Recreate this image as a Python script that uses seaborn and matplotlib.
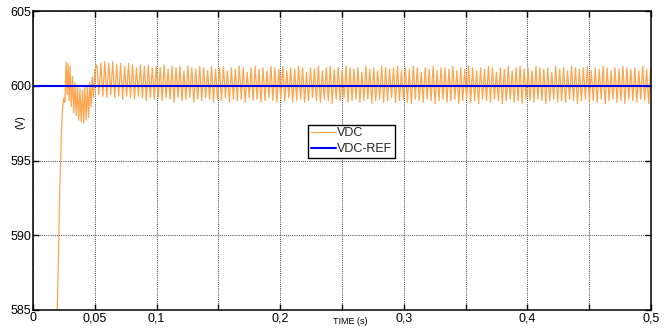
import numpy as np
import pandas as pd
import matplotlib
matplotlib.use("Agg")
import matplotlib.pyplot as plt
import seaborn as sns

# ---------------- data ----------------
# start-up transient: (time, value) of successive extrema
trans_t = [0.0190, 0.0205, 0.0215, 0.0228, 0.0240, 0.0250, 0.0258, 0.0268, 0.0276,
           0.0284, 0.0292, 0.0300, 0.0310, 0.0320, 0.0330, 0.0340, 0.0350, 0.0360,
           0.0370, 0.0380, 0.0390, 0.0400, 0.0410, 0.0420, 0.0430, 0.0440, 0.0450,
           0.0460, 0.0470, 0.0480, 0.0490, 0.0500]
trans_v = [583.0, 588.0, 592.5, 596.5, 598.6, 599.2, 598.9, 601.6, 599.4,
           601.5, 599.0, 601.3, 598.6, 600.6, 598.2, 600.2, 598.0, 599.9,
           597.7, 599.8, 597.6, 599.7, 597.5, 599.9, 597.7, 600.0, 597.9,
           600.2, 598.6, 600.6, 599.2, 601.1]

# steady-state ripple: per-cycle maxima and minima
ripple_start = 0.0517
ripple_period = 0.0032
peaks = [601.4, 601.5, 601.6, 601.5, 601.6, 601.4, 601.5, 601.3, 601.5, 601.4,
         601.2, 601.4, 601.3, 601.4, 601.2, 601.3, 601.2, 601.4, 601.1, 601.3,
         601.2, 601.3, 601.0, 601.3, 601.2, 601.1, 601.3, 601.2, 601.0, 601.3,
         601.1, 601.2, 601.3, 601.0, 601.2, 601.1, 601.3, 601.2, 600.9, 601.2,
         601.3, 601.1, 601.2, 601.0, 601.3, 601.2, 601.1, 601.3, 601.0, 601.2,
         601.1, 601.3, 601.2, 600.9, 601.2, 601.1, 601.3, 601.0, 601.2, 601.3,
         601.1, 601.2, 601.0, 601.3, 601.2, 601.1, 601.2, 600.9, 601.3, 601.1,
         601.2, 601.0, 601.3, 601.2, 601.1, 601.2, 601.3, 601.0, 601.2, 601.1,
         601.3, 601.2, 600.9, 601.2, 601.1, 601.3, 601.0, 601.2, 601.2, 601.1,
         601.3, 601.0, 601.2, 601.1, 601.3, 601.2, 601.0, 601.2, 601.1, 601.3,
         601.2, 600.9, 601.2, 601.1, 601.3, 601.0, 601.2, 601.3, 601.1, 601.2,
         601.0, 601.3, 601.2, 601.1, 601.2, 600.9, 601.3, 601.1, 601.2, 601.0,
         601.3, 601.2, 601.1, 601.2, 601.3, 601.0, 601.2, 601.1, 601.3, 601.2,
         601.0, 601.2, 601.1, 601.3, 601.2, 601.1, 601.2, 601.0, 601.3, 601.1,
         601.2]
troughs = [599.4, 599.3, 599.2, 599.4, 599.2, 599.3, 599.1, 599.3, 599.2, 599.1,
           599.3, 599.2, 599.0, 599.2, 599.1, 599.2, 599.0, 599.2, 599.1, 598.9,
           599.2, 599.0, 599.1, 599.2, 598.9, 599.1, 599.0, 599.2, 599.1, 598.9,
           599.1, 599.0, 599.2, 598.9, 599.1, 599.0, 599.1, 598.9, 599.2, 599.0,
           599.1, 598.9, 599.0, 599.2, 599.0, 598.9, 599.1, 599.0, 599.2, 598.9,
           599.0, 599.1, 598.9, 599.0, 599.2, 599.0, 598.9, 599.1, 599.0, 598.8,
           599.1, 599.0, 599.2, 598.9, 599.0, 599.1, 598.9, 599.0, 599.1, 598.8,
           599.0, 599.1, 598.9, 599.0, 599.2, 598.9, 599.0, 599.1, 598.9, 598.8,
           599.1, 599.0, 598.9, 599.1, 599.0, 598.8, 599.0, 599.1, 598.9, 599.0,
           599.1, 598.8, 599.0, 599.1, 598.9, 599.0, 598.8, 599.1, 599.0, 598.9,
           599.1, 599.0, 598.8, 599.0, 599.1, 598.9, 599.0, 598.8, 599.1, 599.0,
           598.9, 599.1, 599.0, 598.8, 599.0, 599.1, 598.9, 599.0, 598.9, 599.1,
           599.0, 598.8, 599.0, 599.1, 598.9, 599.0, 598.9, 599.1, 598.8, 599.0,
           599.1, 598.9, 599.0, 598.8, 599.1, 599.0, 598.9, 599.1, 599.0, 598.8,
           599.1]

vdc_ref = 600.0
x_ticks = [0, 0.05, 0.1, 0.15, 0.2, 0.25, 0.3, 0.35, 0.4, 0.45, 0.5]
x_tick_labels = ["0", "0,05", "0,1", "", "0,2", "", "0,3", "", "0,4", "", "0,5"]
y_ticks = [585, 590, 595, 600, 605]
y_tick_labels = ["585", "590", "595", "600", "605"]

# ---------------- build the series ----------------
rip_t, rip_v = [], []
for k, (p, q) in enumerate(zip(peaks, troughs)):
    t0 = ripple_start + k * ripple_period
    if t0 > 0.5:
        break
    rip_t += [t0, t0 + ripple_period * 0.5]
    rip_v += [p, q]
t_all = list(trans_t) + rip_t
v_all = list(trans_v) + rip_v
df_vdc = pd.DataFrame({"t": t_all, "v": v_all})
df_ref = pd.DataFrame({"t": [0.0, 0.5], "v": [vdc_ref, vdc_ref]})

# ---------------- draw ----------------
sns.set_theme(style="white")
plt.rcParams["font.family"] = ["Liberation Sans", "DejaVu Sans"]

fig = plt.figure(figsize=(6.7, 3.28), dpi=100)
ax = fig.add_axes([33 / 670, 1 - 310 / 328, 618 / 670, 299 / 328])

sns.lineplot(data=df_vdc, x="t", y="v", ax=ax, color="#FFA54F", lw=0.9,
             estimator=None, sort=False, label="VDC")
sns.lineplot(data=df_ref, x="t", y="v", ax=ax, color="#0000EE", lw=1.5,
             estimator=None, sort=False, label="VDC-REF")

ax.set_xlim(0, 0.5)
ax.set_ylim(585, 605)
ax.set_xticks(x_ticks)
ax.set_xticklabels(x_tick_labels, fontsize=9)
ax.set_yticks(y_ticks)
ax.set_yticklabels(y_tick_labels, fontsize=9)
ax.tick_params(direction="in", length=4, width=1, color="black",
               top=True, right=True, bottom=True, left=True, pad=1.5,
               labelcolor="black")
ax.grid(True, color="#444444", linestyle=(0, (1, 1.2)), linewidth=0.7)
for s in ax.spines.values():
    s.set_color("black")
    s.set_linewidth(1.1)

ax.set_xlabel("TIME (s)", fontsize=6.5, color="black")
ax.xaxis.set_label_coords(0.513, -0.024)
ax.set_ylabel("(V)", fontsize=7.5, color="black")
ax.yaxis.set_label_coords(-0.012, 0.63)

leg = ax.legend(loc="upper left", bbox_to_anchor=(0.445, 0.619), borderaxespad=0,
                fontsize=9, frameon=True, fancybox=False, handlelength=2.0,
                handletextpad=0.1, borderpad=0.2, labelspacing=0.3)
leg.get_frame().set_edgecolor("black")
leg.get_frame().set_linewidth(1.0)
leg.get_frame().set_alpha(1)

fig.savefig("out.png", dpi=100)
